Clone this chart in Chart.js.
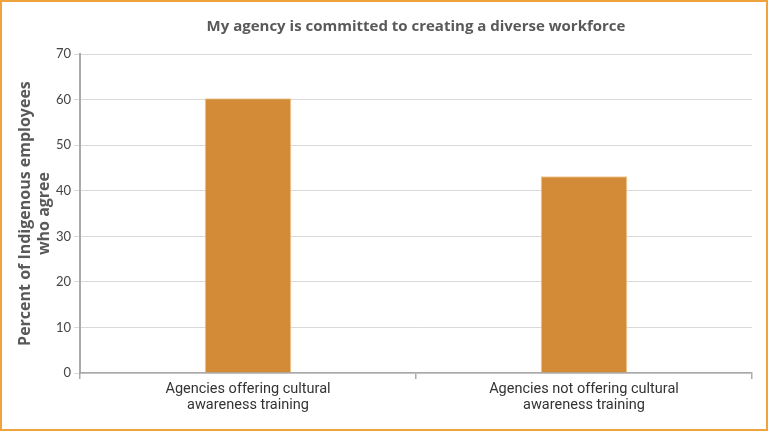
<!DOCTYPE html>
<html lang="en">
<head>
<meta charset="UTF-8">
<title>Diverse workforce</title>
<script src="https://cdn.jsdelivr.net/npm/chart.js"></script>
<style>
  html, body { margin: 0; padding: 0; background: #fff; }
  .frame { position: relative; width: 768px; height: 431px; }
  .frame canvas { position: absolute; left: 0; top: 0; }
  .edge { position: absolute; left: 0; top: 0; width: 768px; height: 431px;
          box-sizing: border-box; border: 2px solid #EFA33C; pointer-events: none; }
</style>
</head>
<body>
<div class="frame">
  <canvas id="grafico" width="768" height="431"></canvas>
  <div class="edge"></div>
</div>
<script>
  const categorias = [
    ['Agencies offering cultural', 'awareness training'],
    ['Agencies not offering cultural', 'awareness training']
  ];
  const percentuais = [60.3, 43.2];
  const marcas = [0, 10, 20, 30, 40, 50, 60, 70];
  const titulo = 'My agency is committed to creating a diverse workforce';

  // titulo centrado sobre a area do grafico, nao sobre o canvas
  const tituloPlugin = {
    id: 'tituloArea',
    afterDraw(chart) {
      const ctx = chart.ctx;
      const area = chart.chartArea;
      ctx.save();
      ctx.font = 'bold 15px "Open Sans", sans-serif';
      ctx.fillStyle = '#595959';
      ctx.textAlign = 'center';
      ctx.textBaseline = 'middle';
      ctx.fillText(titulo, (area.left + area.right) / 2, 27);
      ctx.restore();
    }
  };

  new Chart(document.getElementById('grafico'), {
    type: 'bar',
    data: {
      labels: categorias,
      datasets: [{
        data: percentuais,
        backgroundColor: '#D38B37',
        borderColor: '#F3C98F',
        borderWidth: 1,
        barPercentage: 0.258,
        categoryPercentage: 1
      }]
    },
    options: {
      responsive: false,
      animation: false,
      layout: { padding: { left: 16, right: 16, top: 54, bottom: 16 } },
      plugins: {
        legend: { display: false },
        tooltip: { enabled: false }
      },
      scales: {
        x: {
          grid: { offset: true, drawOnChartArea: false, tickLength: 6, color: '#aaaaaa', lineWidth: 1.5 },
          border: { color: '#aaaaaa', width: 1.5 },
          ticks: { color: '#333', font: { family: 'Roboto, sans-serif', size: 14.5, lineHeight: 1.1 }, maxRotation: 0, padding: 2 },
        },
        y: {
          min: 0,
          max: 70,
          afterBuildTicks(axis) { axis.ticks = marcas.map(v => ({ value: v })); },
          afterFit(axis) { axis.width = 64; },
          grid: { color: '#d9d9d9', tickLength: 6, lineWidth: 1 },
          border: { color: '#aaaaaa', width: 2 },
          ticks: { color: '#444', font: { family: 'Lato, sans-serif', size: 13 }, padding: 3 },
          title: {
            display: true,
            text: ['Percent of Indigenous employees', 'who agree'],
            color: '#595959',
            font: { family: '"Open Sans", sans-serif', size: 16, weight: 'bold' },
            padding: { top: 0, bottom: 0 }
          }
        }
      }
    },
    plugins: [tituloPlugin]
  });
</script>
</body>
</html>
